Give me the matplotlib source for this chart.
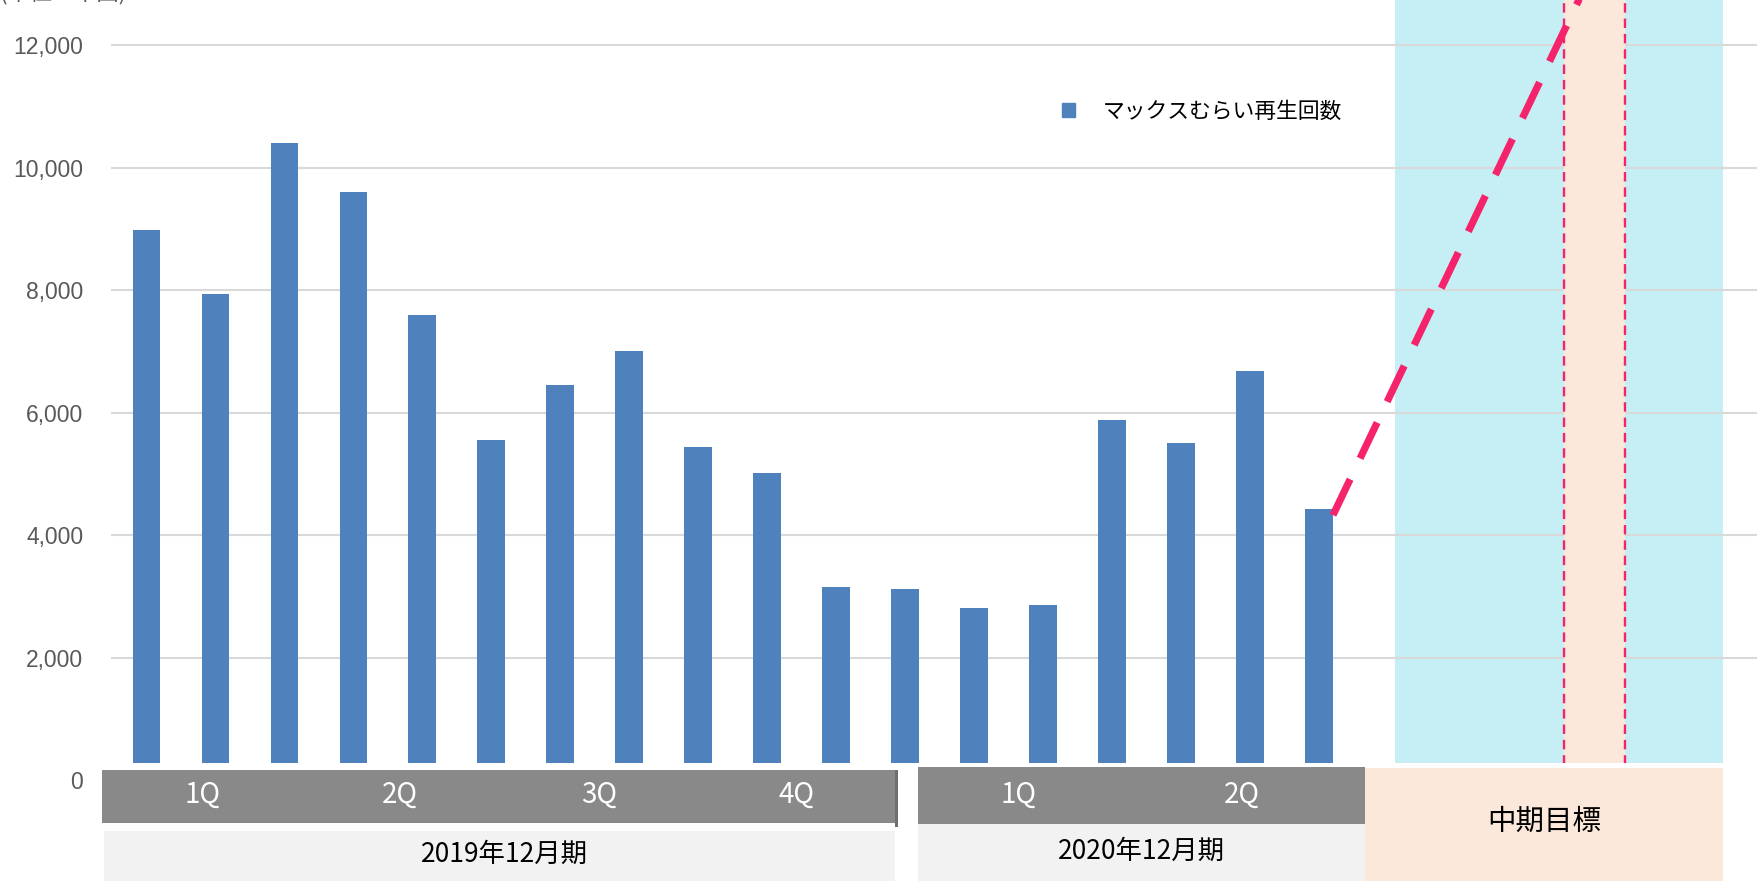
import matplotlib

matplotlib.use("Agg")
import matplotlib.pyplot as plt
from matplotlib.patches import Patch, Rectangle
from matplotlib.ticker import FuncFormatter

plt.rcParams["font.family"] = ["Noto Sans CJK JP", "DejaVu Sans"]

# monthly plays (thousands), Jan 2019 .. Jun 2020
plays = [8980, 7940, 10400, 9600, 7600, 5550, 6460, 7010, 5440,
         5020, 3150, 3130, 2820, 2870, 5890, 5510, 6690, 4430]
series_label = "マックスむらい再生回数"

# dashed growth line towards the mid-term target (x in bar index units)
trend_x = [17.2, 21.0]
trend_y = [4330, 13300]

yticks = [0, 2000, 4000, 6000, 8000, 10000, 12000]
quarters_2019 = ["1Q", "2Q", "3Q", "4Q"]
quarters_2020 = ["1Q", "2Q"]
period_labels = ["2019年12月期", "2020年12月期"]
target_label = "中期目標"
unit_label = "(単位：千回)"

BAR = "#4f81bd"
CYAN = "#c5eff5"
PEACH = "#fce8da"
PINK = "#f5236b"
GRAY = "#898989"
LIGHT = "#f2f2f2"

W, H = 1758, 881
fig = plt.figure(figsize=(W / 100, H / 100), dpi=100)


def fx(px):
    return px / W


def fy(px):
    # pixel measured from top -> figure fraction
    return 1 - px / H


ax = fig.add_axes([fx(111), fy(780.3), fx(1647), 780.3 / H])
ax.set_xlim(-0.512, 23.36)
ax.set_ylim(0, 12740)

# target zone
ax.axvspan(18.10, 22.85, color=CYAN, lw=0, zorder=0.2)
ax.axvspan(20.55, 21.43, color=PEACH, lw=0, zorder=1)
for xv in (20.55, 21.43):
    ax.axvline(xv, color=PINK, lw=1.7, dashes=(4, 2.5), zorder=1.5)

x = list(range(len(plays)))
ax.bar(x, plays, width=0.40, color=BAR, zorder=2, label=series_label)
ax.plot(trend_x, trend_y, color=PINK, lw=5.2, dashes=(5.5, 3.2),
        solid_capstyle="butt", dash_capstyle="butt", zorder=3)

ax.set_yticks(yticks)
ax.yaxis.set_major_formatter(FuncFormatter(lambda v, _: f"{int(v):,}"))
ax.grid(axis="y", color="#d9d9d9", lw=1.5)
ax.set_axisbelow(True)
ax.set_xticks([])
ax.tick_params(axis="y", length=0, pad=20, labelsize=16.5, labelcolor="#595959")
for lab in ax.get_yticklabels():
    lab.set_family(["Liberation Sans", "DejaVu Sans"])
for s in ax.spines.values():
    s.set_visible(False)

ax.legend(handles=[Patch(color=BAR, label=series_label)],
          loc="center left", bbox_to_anchor=(fx(1062), fy(112)),
          bbox_transform=fig.transFigure, frameon=False, fontsize=15.7,
          handlelength=0.6, handleheight=0.6, handletextpad=1.25,
          borderpad=0, borderaxespad=0)


def box(x0, y0, x1, y1, color, z=10):
    fig.add_artist(Rectangle((fx(x0), fy(y1)), fx(x1 - x0), (y1 - y0) / H,
                             transform=fig.transFigure, facecolor=color,
                             edgecolor="none", zorder=z))


# bottom category bands (drawn over the bars' foot)
box(100, 763, W, H, "white", z=9)
box(102, 770, 895, 823, GRAY)
box(895, 770, 898, 827, "#6f6f6f")
box(104, 831, 895, H, LIGHT)
box(918, 767, 1365, 824, GRAY)
box(918, 824, 1365, H, LIGHT)
box(1365, 768, 1723, H, PEACH)

for q, xp in zip(quarters_2019, [203, 400, 599, 797]):
    fig.text(fx(xp), fy(795), q, color="white", fontsize=20,
             ha="center", va="center", zorder=11)
for q, xp in zip(quarters_2020, [1019, 1242]):
    fig.text(fx(xp), fy(795), q, color="white", fontsize=20,
             ha="center", va="center", zorder=11)
fig.text(fx(504), fy(854), period_labels[0], fontsize=19,
         ha="center", va="center", zorder=11)
fig.text(fx(1141), fy(851), period_labels[1], fontsize=19,
         ha="center", va="center", zorder=11)
fig.text(fx(1544), fy(822), target_label, fontsize=20.5,
         ha="center", va="center", zorder=11)

# unit label sits mostly above the canvas, only its foot shows
fig.text(0.0, fy(4), unit_label, fontsize=16, color="#595959",
         ha="left", va="bottom")

fig.savefig("out.png", dpi=100)
